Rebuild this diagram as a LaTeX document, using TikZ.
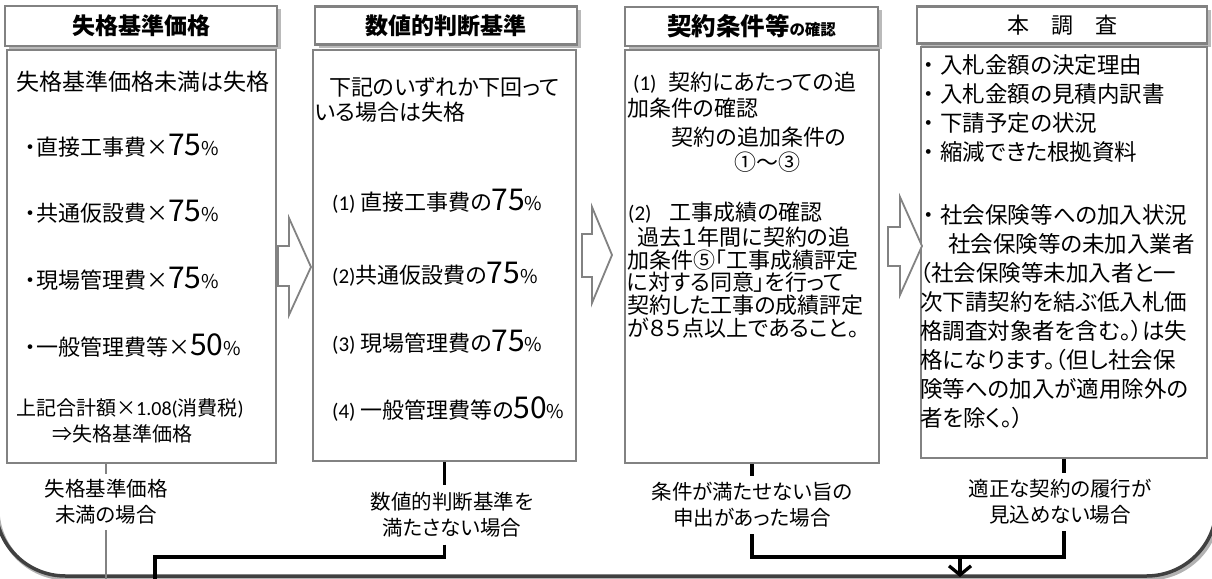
\documentclass[tikz,border=0pt]{standalone}
\usepackage{fontspec}
\setmainfont{Noto Sans CJK JP}[RawFeature=+palt]
\newfontfamily\calf{Carlito}
\usetikzlibrary{shadows,arrows.meta}
\definecolor{boxgray}{RGB}{130,130,130}
\definecolor{framegray}{RGB}{64,64,64}
\newcommand{\bignum}[1]{{\fontsize{30}{30}\selectfont #1}}
\newcommand{\pct}{{\fontsize{19}{19}\selectfont\%}}
\newcommand{\sz}[1]{\fontsize{#1}{#1}\selectfont}
\tikzset{
  titlebox/.style={draw=boxgray, line width=2.2pt, fill=white, inner sep=0pt,
     drop shadow={shadow xshift=3.5pt, shadow yshift=-3.5pt, opacity=0.45, fill=black!60}},
  bodybox/.style={draw=boxgray, line width=1.8pt, fill=white, inner sep=0pt},
  txt/.style={anchor=base west, inner sep=0pt, font=\sz{22}},
  ctxt/.style={anchor=base, inner sep=0pt, font=\sz{22}},
  lab/.style={align=center, font=\fontsize{20.5}{26}\selectfont, inner xsep=2pt},
  conn/.style={line width=3.3pt, black},
  gconn/.style={line width=1.5pt, boxgray},
  blockarrow/.style={draw=boxgray, line width=1.8pt, fill=white, line join=miter},
  framepath/.style={line width=3.5pt, framegray, rounded corners=70pt},
  frameshadow/.style={line width=4pt, black!30, rounded corners=70pt},
}
\begin{document}
\begin{tikzpicture}[x=1pt, y=-1pt]
\useasboundingbox (0,0) rectangle (1212,578);
% bottom frame
\draw[frameshadow] (-2.5,380) -- (-2.5,578.5) -- (1218.5,578.5) -- (1218.5,380);
\draw[framepath] (-4.5,380) -- (-4.5,576) -- (1216.5,576) -- (1216.5,380);

% title boxes
\node[titlebox, minimum width=272pt, minimum height=40pt] (t1) at (141,26) {\bfseries\sz{23}失格基準価格};
\node[titlebox, minimum width=262pt, minimum height=38pt] (t2) at (446,25.5) {\bfseries\sz{23}数値的判断基準};
\node[titlebox, minimum width=253pt, minimum height=39pt] (t3) at (751.5,26.5) {\bfseries{\sz{24.5}契約条件等}{\sz{15.5}の確認}};
\node[titlebox, minimum width=290pt, minimum height=37pt] (t4) at (1062,25) {\sz{22}本　調　査};

% body boxes
\node[bodybox, minimum width=269pt, minimum height=413pt] (b1) at (141.5,256.5) {};
\node[bodybox, minimum width=263pt, minimum height=411pt] (b2) at (444.5,255.5) {};
\node[bodybox, minimum width=254pt, minimum height=413pt] (b3) at (752,256.5) {};
\node[bodybox, minimum width=286pt, minimum height=411pt] (b4) at (1064,252.5) {};

% block arrows
\draw[blockarrow] (278,246) -- (289,246) -- (289,218) -- (311,267) -- (289,315) -- (289,286) -- (278,286) -- cycle;
\draw[blockarrow] (582,234) -- (592,234) -- (592,207) -- (612,255) -- (592,303) -- (592,277) -- (582,277) -- cycle;
\draw[blockarrow] (888,227) -- (900,227) -- (900,197) -- (922,246) -- (900,295) -- (900,266) -- (888,266) -- cycle;

% column 1 text
\node[txt, font=\sz{23}] (n1a) at (16,90.5) {失格基準価格未満は失格};
\node[txt] (n1b) at (25,155.5) {・直接工事費×\bignum{75}\pct};
\node[txt] (n1c) at (25,221.5) {・共通仮設費×\bignum{75}\pct};
\node[txt] (n1d) at (25,288.5) {・現場管理費×\bignum{75}\pct};
\node[txt] (n1e) at (25,355.5) {・一般管理費等×\bignum{50}\pct};
\node[txt, font=\sz{20}] (n1f) at (16,415.5) {上記合計額×{\calf 1.08(}消費税{\calf )}};
\node[txt, font=\sz{20}] (n1g) at (52,441.5) {⇒失格基準価格};

% column 2 text
\node[txt] (n2a) at (329,95.5) {下記のいずれか下回って};
\node[txt] (n2b) at (315,120.5) {いる場合は失格};
\node[txt] (n2c) at (332,210.5) {{\calf\sz{21}(1) }直接工事費の\bignum{75}\pct};
\node[txt] (n2d) at (332,283.5) {{\calf\sz{21}(2)}共通仮設費の\bignum{75}\pct};
\node[txt] (n2e) at (332,351.5) {{\calf\sz{21}(3) }現場管理費の\bignum{75}\pct};
\node[txt] (n2f) at (332,418.5) {{\calf\sz{21}(4) }一般管理費等の\bignum{50}\pct};

% column 3 text
\node[txt] (n3a) at (633,90.5) {{\calf\sz{21}(1)}\hspace{12pt}契約にあたっての追};
\node[txt] (n3b) at (627,116.5) {加条件の確認};
\node[ctxt] (n3c) at (759,145.5) {契約の追加条件の};
\node[ctxt] (n3d) at (767,170.5) {①～③};
\node[txt] (n3e) at (628,220.5) {{\calf\sz{21}(2)}\hspace{18pt}工事成績の確認};
\node[txt] (n3f) at (637,245.5) {過去１年間に契約の追};
\node[txt] (n3g) at (627,268.5) {加条件⑤「工事成績評定};
\node[txt] (n3h) at (627,290.5) {に対する同意」を行って};
\node[txt] (n3i) at (627,313.5) {契約した工事の成績評定};
\node[txt] (n3j) at (627,336.5) {が８５点以上であること。};

% column 4 text
\node[txt, font=\sz{22.5}] (n4a) at (923,73.5) {・\hspace{6pt}入札金額の決定理由};
\node[txt, font=\sz{22.5}] (n4b) at (923,102.5) {・\hspace{6pt}入札金額の見積内訳書};
\node[txt, font=\sz{22.5}] (n4c) at (923,131.5) {・\hspace{6pt}下請予定の状況};
\node[txt, font=\sz{22.5}] (n4d) at (923,160.5) {・\hspace{6pt}縮減できた根拠資料};
\node[txt, font=\sz{22.5}] (n4e) at (923,223) {・\hspace{6pt}社会保険等への加入状況};
\node[txt, font=\sz{22.5}] (n4f) at (948,252) {社会保険等の未加入業者};
\node[txt, font=\sz{22.5}] (n4g) at (920,281) {（社会保険等未加入者と一};
\node[txt, font=\sz{22.5}] (n4h) at (920,310) {次下請契約を結ぶ低入札価};
\node[txt, font=\sz{22.5}] (n4i) at (920,339) {格調査対象者を含む。）は失};
\node[txt, font=\sz{22.5}] (n4j) at (920,368) {格になります。（但し社会保};
\node[txt, font=\sz{22.5}] (n4k) at (920,397) {険等への加入が適用除外の};
\node[txt, font=\sz{22.5}] (n4l) at (920,426) {者を除く。）};

% labels
\node[lab, inner ysep=5.75pt] (lab1) at (106,502) {失格基準価格\\未満の場合};
\node[lab, inner ysep=7pt] (lab2) at (452,515) {数値的判断基準を\\満たさない場合};
\node[lab, inner ysep=6.75pt] (lab3) at (752,505) {条件が満たせない旨の\\申出があった場合};
\node[lab, inner ysep=6.75pt] (lab4) at (1060,502) {適正な契約の履行が\\見込めない場合};

% connectors
\coordinate (e1) at (106,582);
\coordinate (j2) at (155,557);
\coordinate (e2) at (155,582);
\coordinate (m) at (960,557);
\coordinate (mend) at (960,577);
\draw[gconn] (b1.south -| lab1.north) -- (lab1.north);
\draw[gconn] (lab1.south) -- (lab1.south |- e1);
\draw[conn] (b2.south) -- (b2.south |- lab2.north);
\draw[conn] (b2.south |- lab2.south) |- (j2) -- (e2);
\draw[conn] (b3.south) -- (b3.south |- lab3.north);
\draw[conn] (b3.south |- lab3.south) |- (m);
\draw[conn] (b4.south) -- (b4.south |- lab4.north);
\draw[conn] (b4.south |- lab4.south) |- (m);
\draw[conn, -{Straight Barb[length=9pt, width=22pt]}] (m) -- (mend);
\end{tikzpicture}
\end{document}
